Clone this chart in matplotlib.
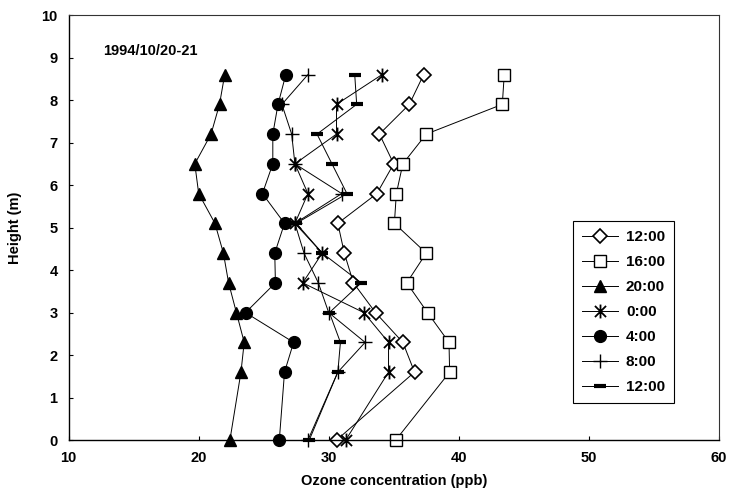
import matplotlib
matplotlib.use('Agg')
import matplotlib.pyplot as plt
from matplotlib.path import Path

# heights (m) and ozone values (ppb)
heights = [0, 1.6, 2.3, 3.0, 3.7, 4.4, 5.1, 5.8, 6.5, 7.2, 7.9, 8.6]

o3_1200a = [30.6, 36.6, 35.7, 33.6, 31.9, 31.2, 30.7, 33.7, 35.0, 33.9, 36.2, 37.3]
o3_1600 = [35.15, 39.3, 39.25, 37.6, 36.0, 37.5, 35.05, 35.2, 35.7, 37.5, 43.35, 43.5]
o3_2000 = [22.4, 23.25, 23.5, 22.9, 22.3, 21.9, 21.25, 20.0, 19.7, 20.95, 21.6, 22.0]
o3_0000 = [31.3, 34.6, 34.6, 32.7, 28.0, 29.5, 27.4, 28.4, 27.4, 30.6, 30.6, 34.1]
o3_0400 = [26.2, 26.6, 27.3, 23.6, 25.9, 25.85, 26.6, 24.9, 25.7, 25.7, 26.1, 26.7]
o3_0800 = [28.4, 30.7, 32.8, 30.0, 29.2, 28.1, 27.4, 31.0, 27.4, 27.15, 26.4, 28.4]
o3_1200b = [28.5, 30.7, 30.9, 30.05, 32.5, 29.5, 27.5, 31.4, 30.25, 29.1, 32.15, 32.0]

labels = ['12:00', '16:00', '20:00', '0:00', '4:00', '8:00', '12:00']

# asterisk marker: X with a vertical bar
star = Path([(-1, -1), (1, 1), (-1, 1), (1, -1), (0, -1.25), (0, 1.25)],
            [Path.MOVETO, Path.LINETO, Path.MOVETO, Path.LINETO, Path.MOVETO, Path.LINETO])

plt.rcParams['font.family'] = ['Liberation Sans', 'DejaVu Sans']

fig = plt.figure(figsize=(7.29, 5.03), dpi=100)
ax = fig.add_axes([0.0942, 0.125, 0.8918, 0.845])

lk = dict(color='black', lw=0.7, clip_on=False)
ax.plot(o3_1200a, heights, marker='D', ms=7, mfc='white', mec='black', mew=1.2, label=labels[0], **lk)
ax.plot(o3_1600, heights, marker='s', ms=9, mfc='white', mec='black', mew=1.0, label=labels[1], **lk)
ax.plot(o3_2000, heights, marker='^', ms=9, mfc='black', mec='black', label=labels[2], **lk)
ax.plot(o3_0000, heights, marker=star, ms=10, mec='black', mew=1.3, label=labels[3], **lk)
ax.plot(o3_0400, heights, marker='o', ms=8.5, mfc='black', mec='black', label=labels[4], **lk)
ax.plot(o3_0800, heights, marker='+', ms=10, mec='black', mew=1.0, label=labels[5], **lk)
ax.plot(o3_1200b, heights, marker='_', ms=9, mec='black', mew=3, label=labels[6], **lk)

ax.set_xlim(10, 60)
ax.set_ylim(0, 10)
ax.set_xticks(range(10, 61, 10))
ax.set_yticks(range(0, 11))
ax.tick_params(direction='in', length=3, width=0.8, labelsize=10.5, pad=8)
for t in ax.get_xticklabels() + ax.get_yticklabels():
    t.set_fontweight('bold')

for s in ['left', 'bottom']:
    ax.spines[s].set_linewidth(1.0)
for s in ['top', 'right']:
    ax.spines[s].set_linewidth(0.8)
    ax.spines[s].set_color('#333333')

ax.set_xlabel('Ozone concentration (ppb)', fontsize=10.5, fontweight='bold', labelpad=6)
ax.set_ylabel('Height (m)', fontsize=10.5, fontweight='bold', labelpad=14)

ax.text(0.053, 0.915, '1994/10/20-21', transform=ax.transAxes, fontsize=10.5,
        fontweight='bold', ha='left', va='center')

leg = ax.legend(loc='lower left', bbox_to_anchor=(0.775, 0.087), fancybox=False,
                edgecolor='black', fontsize=11, handlelength=2.4, handletextpad=0.5,
                labelspacing=0.72, borderpad=0.6, borderaxespad=0, framealpha=1)
leg.get_frame().set_linewidth(0.8)
for t in leg.get_texts():
    t.set_fontweight('bold')

fig.savefig('out.png', dpi=100)
